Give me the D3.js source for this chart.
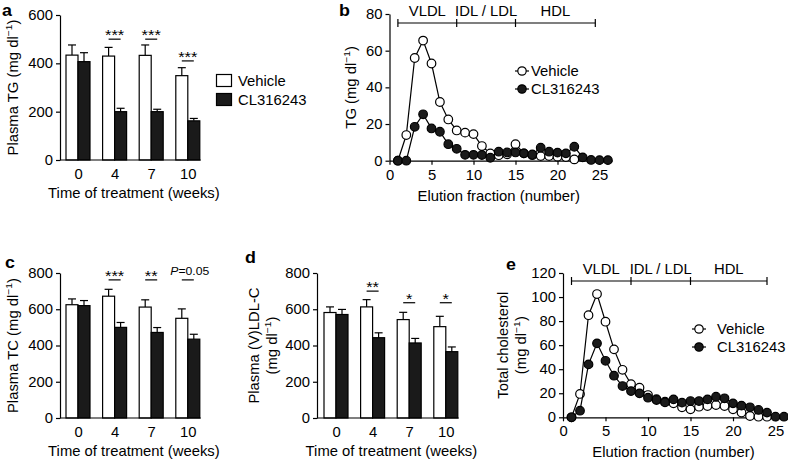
<!DOCTYPE html>
<html><head><meta charset="utf-8">
<script src="https://cdn.jsdelivr.net/npm/d3@7"></script>
<style>body{margin:0;background:#fff}svg{display:block}</style>
</head><body><svg id="chart" width="788" height="462"></svg>
<script>
// ---------- data ----------
const weeks = ["0", "4", "7", "10"];
const seriesNames = ["Vehicle", "CL316243"];

const tgVehicle = [434, 430, 433, 349];
const tgVehicleSem = [42, 36, 43, 33];
const tgCL = [407, 200, 200, 162];
const tgCLSem = [37, 14, 10, 10];
const tgSig = ["", "***", "***", "***"];
const tgSigAt = [0, 500, 500, 410];

const tcVehicle = [625, 672, 612, 550];
const tcVehicleSem = [32, 38, 40, 52];
const tcCL = [620, 500, 472, 435];
const tcCLSem = [28, 27, 27, 27];
const tcSig = ["", "***", "**", "P=0.05"];
const tcSigAt = [0, 762, 762, 762];

const ldlVehicle = [582, 613, 543, 504];
const ldlVehicleSem = [31, 40, 40, 57];
const ldlCL = [571, 443, 414, 366];
const ldlCLSem = [28, 27, 25, 26];
const ldlSig = ["", "**", "*", "*"];
const ldlSigAt = [0, 700, 636, 636];

// elution profiles, fraction 1, 2, 3 ...
const tgFracVehicle = [0, 14, 56, 65.5, 53, 32, 22.5, 16.5, 15.3, 14.5, 8, 4, 3, 3.5, 9, 4, 3, 2.5, 2.5, 2.2, 2, 0.7];
const tgFracCL = [0, 0, 18.5, 25.3, 17.6, 15.8, 9, 6.5, 3.2, 3.2, 3.1, 1.6, 4.9, 4.5, 4.5, 4, 3.4, 7.1, 4.9, 4.4, 4, 7.6, 1.8, 0.4, 0.3, 0.3];
const tcFracVehicle = [0, 19.4, 84.9, 102.5, 79.5, 56.5, 39.5, 27.6, 24.6, 18.5, 15, 13, 11.6, 8.3, 6.6, 8.8, 9.4, 10.2, 9.4, 6.6, 3.9, 1.1, 0.5, 0.5];
const tcFracCL = [0, 5.5, 44, 61.5, 47, 34.6, 26, 21.8, 19.9, 16.3, 14.4, 12.4, 14.9, 12.2, 13.5, 13.5, 14.9, 17.1, 15.8, 11.6, 9.7, 8.3, 6.1, 3.9, 0.5, 0.5];

const lipoClasses = ["VLDL", "IDL / LDL", "HDL"];
const lipoBoundsTG = [1, 8, 15, 24.5];
const lipoBoundsTC = [1, 8, 15, 24];

// ---------- helpers ----------
const svg = d3.select("#chart");
const FF = "'Liberation Sans', Arial, Helvetica, sans-serif";
const FS = 14;
const SX = 1.06;
const LW = 1.2;
const DARK = "#1a1a1a";

function addText(parent, x, y, parts, o = {}) {
  const size = o.size || FS;
  const sx = o.sx === undefined ? SX : o.sx;
  const t = parent.append("text")
    .attr("transform", `translate(${x},${y})${o.rotate ? ` rotate(${o.rotate})` : ""} scale(${sx},1)`)
    .attr("text-anchor", o.anchor || "start")
    .style("font-family", FF)
    .style("font-size", size + "px")
    .style("font-weight", o.weight || "normal")
    .attr("fill", "#000");
  if (typeof parts === "string") parts = [{ t: parts }];
  let shifted = false;
  parts.forEach(p => {
    const s = t.append("tspan").text(p.t);
    if (p.italic) s.style("font-style", "italic");
    if (p.sup) {
      s.style("font-size", (size * 0.7) + "px").attr("dy", -size * 0.4);
      shifted = true;
    } else if (shifted) {
      s.attr("dy", size * 0.4);
      shifted = false;
    }
  });
  return t;
}

function styleAxis(sel, isY) {
  sel.attr("font-size", null).attr("font-family", null);
  sel.selectAll("path.domain").attr("stroke", "#000").attr("stroke-width", LW);
  sel.selectAll(".tick line").attr("stroke", "#000").attr("stroke-width", LW);
  sel.selectAll(".tick text").each(function () {
    const t = d3.select(this);
    t.style("font-family", FF).style("font-size", FS + "px").attr("fill", "#000");
    if (isY) {
      const x = +t.attr("x");
      t.attr("x", 0).attr("transform", `translate(${x},0) scale(${SX},1)`);
    } else {
      t.attr("transform", `scale(${SX},1)`);
    }
  });
}

const unitLabel = (pre) => [{ t: pre + "(mg dl" }, { t: "\u22121", sup: true }, { t: ")" }];

// ---------- bar panels ----------
function barPanel(o) {
  const g = svg.append("g");
  const BW = 12;
  const y = d3.scaleLinear().domain([0, o.yMax]).range([o.y0, o.y1]);
  const x = d3.scalePoint().domain(weeks).range([o.c0, o.c0 + 3 * 36.6]);

  const series = [
    { vals: o.veh, sem: o.vehSem, fill: "#fff", off: -BW },
    { vals: o.cl, sem: o.clSem, fill: DARK, off: 0 }
  ];
  series.forEach(s => {
    weeks.forEach((w, i) => {
      const cx = x(w) + s.off + BW / 2;
      const top = y(s.vals[i]);
      const et = y(s.vals[i] + s.sem[i]);
      g.append("line").attr("x1", cx).attr("x2", cx).attr("y1", top).attr("y2", et)
        .attr("stroke", "#000").attr("stroke-width", LW);
      g.append("line").attr("x1", cx - 4).attr("x2", cx + 4).attr("y1", et).attr("y2", et)
        .attr("stroke", "#000").attr("stroke-width", LW);
      g.append("rect").attr("x", x(w) + s.off).attr("width", BW)
        .attr("y", top).attr("height", o.y0 - top)
        .attr("fill", s.fill).attr("stroke", "#000").attr("stroke-width", LW);
    });
  });

  // significance
  weeks.forEach((w, i) => {
    const lab = o.sig[i];
    if (!lab) return;
    const ly = y(o.sigAt[i]);
    g.append("line").attr("x1", x(w) - BW / 2).attr("x2", x(w) + BW / 2)
      .attr("y1", ly).attr("y2", ly).attr("stroke", "#000").attr("stroke-width", LW);
    if (lab.startsWith("P")) {
      addText(g, x(w) + 2, ly - 5, [{ t: "P", italic: true }, { t: lab.slice(1) }], { anchor: "middle", size: 11.5 });
    } else {
      addText(g, x(w), ly + 1, lab, { anchor: "middle", size: 15.5 });
    }
  });

  // axes
  const ya = g.append("g").attr("transform", `translate(${o.ax},0)`)
    .call(d3.axisLeft(y).tickValues(o.ticks).tickSize(4).tickPadding(3).tickSizeOuter(0));
  styleAxis(ya, true);
  g.append("line").attr("x1", o.ax).attr("x2", x(weeks[3]) + BW + 1)
    .attr("y1", o.y0).attr("y2", o.y0).attr("stroke", "#000").attr("stroke-width", LW);
  const xa = g.append("g").attr("transform", `translate(0,${o.y0})`)
    .call(d3.axisBottom(x).tickSize(0).tickPadding(9));
  xa.select(".domain").remove();
  styleAxis(xa, false);

  addText(g, (o.ax + x(weeks[3]) + BW) / 2 + 4, o.y0 + 38, "Time of treatment (weeks)", { anchor: "middle" });

  // y title
  const cy = (o.y0 + o.y1) / 2;
  o.ytitle.forEach((parts, k) => {
    addText(g, o.ytx[k], cy, parts, { anchor: "middle", rotate: -90 });
  });
  addText(g, o.letter[1], o.letter[2], o.letter[0], { weight: "bold", size: 17, sx: 1.05 });
  return { g, x, y };
}

const pa = barPanel({
  ax: 60, c0: 78, y0: 160, y1: 15, yMax: 600, ticks: [0, 200, 400, 600],
  veh: tgVehicle, vehSem: tgVehicleSem, cl: tgCL, clSem: tgCLSem, sig: tgSig, sigAt: tgSigAt,
  ytitle: [unitLabel("Plasma TG ")], ytx: [17.5], letter: ["a", 2, 15.5]
});

// legend for a
seriesNames.forEach((n, i) => {
  pa.g.append("rect").attr("x", 216.5).attr("y", 74.5 + i * 19).attr("width", 15).attr("height", 12)
    .attr("fill", i ? DARK : "#fff").attr("stroke", "#000").attr("stroke-width", LW);
  addText(pa.g, 238, 86 + i * 19, n);
});

barPanel({
  ax: 60, c0: 78, y0: 418, y1: 273, yMax: 800, ticks: [0, 200, 400, 600, 800],
  veh: tcVehicle, vehSem: tcVehicleSem, cl: tcCL, clSem: tcCLSem, sig: tcSig, sigAt: tcSigAt,
  ytitle: [unitLabel("Plasma TC ")], ytx: [17.5], letter: ["c", 5, 268]
});

barPanel({
  ax: 317, c0: 336, y0: 418, y1: 273, yMax: 800, ticks: [0, 200, 400, 600, 800],
  veh: ldlVehicle, vehSem: ldlVehicleSem, cl: ldlCL, clSem: ldlCLSem, sig: ldlSig, sigAt: ldlSigAt,
  ytitle: [[{ t: "Plasma (V)LDL-C" }], unitLabel("")], ytx: [259, 277], letter: ["d", 245, 263]
});

// ---------- elution panels ----------
function linePanel(o) {
  const g = svg.append("g");
  const x = d3.scaleLinear().domain([0, 26.5]).range([o.ax, o.ax + 26.5 * o.unit]);
  const y = d3.scaleLinear().domain([0, o.yMax]).range([o.y0, o.y1]);

  const ya = g.append("g").attr("transform", `translate(${o.ax},0)`)
    .call(d3.axisLeft(y).tickValues(o.ticks).tickSize(4).tickPadding(3).tickSizeOuter(0));
  styleAxis(ya, true);
  const xa = g.append("g").attr("transform", `translate(0,${o.y0})`)
    .call(d3.axisBottom(x).tickValues([0, 5, 10, 15, 20, 25]).tickSize(4).tickPadding(5).tickSizeOuter(0));
  styleAxis(xa, false);

  // bracket
  const b = o.bounds;
  g.append("line").attr("x1", x(b[0])).attr("x2", x(b[3])).attr("y1", o.by).attr("y2", o.by)
    .attr("stroke", "#000").attr("stroke-width", LW);
  b.forEach(v => g.append("line").attr("x1", x(v)).attr("x2", x(v)).attr("y1", o.by - 4).attr("y2", o.by + 4)
    .attr("stroke", "#000").attr("stroke-width", LW));
  lipoClasses.forEach((c, i) => addText(g, (x(b[i]) + x(b[i + 1])) / 2, o.by - 7, c, { anchor: "middle" }));

  // data
  const line = d3.line().x((d, i) => x(i + 1)).y(d => y(d));
  [{ v: o.veh, fill: "#fff" }, { v: o.cl, fill: DARK }].forEach(s => {
    g.append("path").datum(s.v).attr("d", line).attr("fill", "none").attr("stroke", "#000").attr("stroke-width", LW);
    g.selectAll(null).data(s.v).enter().append("circle")
      .attr("cx", (d, i) => x(i + 1)).attr("cy", d => y(d)).attr("r", 4.3)
      .attr("fill", s.fill).attr("stroke", "#000").attr("stroke-width", LW);
  });

  // legend
  seriesNames.forEach((n, i) => {
    const ly = o.leg[1] + i * 18;
    g.append("line").attr("x1", o.leg[0] - 7).attr("x2", o.leg[0] + 7).attr("y1", ly).attr("y2", ly)
      .attr("stroke", "#000").attr("stroke-width", LW);
    g.append("circle").attr("cx", o.leg[0]).attr("cy", ly).attr("r", 4.2)
      .attr("fill", i ? DARK : "#fff").attr("stroke", "#000").attr("stroke-width", LW);
    addText(g, o.leg[0] + o.leg[2], ly + 5, n);
  });

  addText(g, (x(0) + x(26)) / 2, o.y0 + 40, "Elution fraction (number)", { anchor: "middle" });
  const cy = (o.y0 + o.y1) / 2;
  o.ytitle.forEach((parts, k) => addText(g, o.ytx[k], cy, parts, { anchor: "middle", rotate: -90 }));
  addText(g, o.letter[1], o.letter[2], o.letter[0], { weight: "bold", size: 17, sx: 1.05 });
}

linePanel({
  ax: 389.5, unit: 8.4, y0: 160.7, y1: 14, yMax: 80, ticks: [0, 20, 40, 60, 80],
  veh: tgFracVehicle, cl: tgFracCL, bounds: lipoBoundsTG, by: 23, leg: [522, 71, 9],
  ytitle: [[{ t: "TG " }].concat(unitLabel(""))], ytx: [356], letter: ["b", 339, 15.5]
});

linePanel({
  ax: 563, unit: 8.5, y0: 417.3, y1: 273, yMax: 120, ticks: [0, 20, 40, 60, 80, 100, 120],
  veh: tcFracVehicle, cl: tcFracCL, bounds: lipoBoundsTC, by: 281, leg: [699, 329, 18],
  ytitle: [[{ t: "Total cholesterol" }], unitLabel("")], ytx: [508, 526], letter: ["e", 506, 270]
});
</script></body></html>
